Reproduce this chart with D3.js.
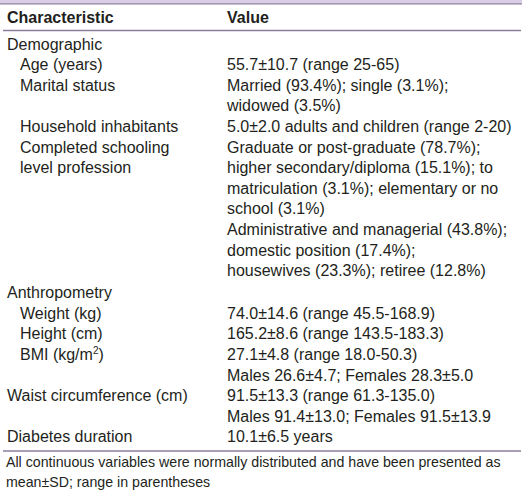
<!DOCTYPE html>
<html><head><meta charset="utf-8">
<script src="https://cdn.jsdelivr.net/npm/d3@7"></script>
<style>
html,body{margin:0;padding:0;background:#fff;}
svg{display:block;}
text{font-family:"Liberation Sans",Arial,sans-serif;fill:#231f20;}
</style></head>
<body>
<svg id="chart" width="522" height="492"></svg>
<script>
// ---- data ----
const headers = ["Characteristic", "Value"];
const characteristics = [
  "Demographic", "Age (years)", "Marital status", "Household inhabitants",
  "Completed schooling|level profession", "Anthropometry", "Weight (kg)",
  "Height (cm)", "BMI (kg/m^2)", "Waist circumference (cm)", "Diabetes duration"
];
const levels = [0, 1, 1, 1, 1, 0, 1, 1, 1, 0, 0];
const values = [
  [],
  ["55.7±10.7 (range 25-65)"],
  ["Married (93.4%); single (3.1%);", "widowed (3.5%)"],
  ["5.0±2.0 adults and children (range 2-20)"],
  ["Graduate or post-graduate (78.7%);", "higher secondary/diploma (15.1%); to",
   "matriculation (3.1%); elementary or no", "school (3.1%)",
   "Administrative and managerial (43.8%);", "domestic position (17.4%);",
   "housewives (23.3%); retiree (12.8%)"],
  [],
  ["74.0±14.6 (range 45.5-168.9)"],
  ["165.2±8.6 (range 143.5-183.3)"],
  ["27.1±4.8 (range 18.0-50.3)", "Males 26.6±4.7; Females 28.3±5.0"],
  ["91.5±13.3 (range 61.3-135.0)", "Males 91.4±13.0; Females 91.5±13.9"],
  ["10.1±6.5 years"]
];
const sectionGap = [0, 0, 0, 0, 0, 1, 0, 0, 0, 0, 0];
const footnote = [
  "All continuous variables were normally distributed and have been presented as",
  "mean±SD; range in parentheses"
];

// ---- layout ----
const W = 522, H = 492;
const svg = d3.select("#chart");
const x = d3.scaleOrdinal().domain(["section", "item", "value"]).range([7, 20, 227]);
const lineY = d3.scaleLinear().domain([0, 1]).range([49.5, 70.1]); // baseline per line index

let rowsOut = [];
let idx = 0, extra = 0;
characteristics.forEach((c, i) => {
  if (sectionGap[i]) extra += 1.5;
  const labels = c.split("|");
  const n = Math.max(labels.length, values[i].length, 1);
  rowsOut.push({i, start: idx, labels, vals: values[i], extra});
  idx += n;
});

// top band
svg.append("rect").attr("x", 0).attr("y", 0).attr("width", W).attr("height", 3.5).attr("fill", "#d8cce6");
svg.append("line").attr("x1", 0).attr("x2", W).attr("y1", 3.8).attr("y2", 3.8).attr("stroke", "#8c7d9e").attr("stroke-width", 1.3);

// header
svg.append("g").selectAll("text").data(headers).join("text")
  .attr("x", (d, i) => i === 0 ? 7 : x("value"))
  .attr("y", 22.5)
  .attr("font-size", 16).attr("font-weight", "bold")
  .text(d => d);
svg.append("line").attr("x1", 3).attr("x2", 521).attr("y1", 30.5).attr("y2", 30.5).attr("stroke", "#8c7d9e").attr("stroke-width", 1.3);

const body = svg.append("g");
rowsOut.forEach(r => {
  r.labels.forEach((lab, k) => {
    const t = body.append("text")
      .attr("x", levels[r.i] === 0 ? x("section") : x("item"))
      .attr("y", lineY(r.start + k) + r.extra)
      .attr("font-size", 16);
    if (lab.includes("^2")) {
      const parts = lab.split("^2");
      t.append("tspan").text(parts[0]);
      t.append("tspan").attr("font-size", 10).attr("dy", -6).text("2");
      t.append("tspan").attr("dy", 6).text(parts[1]);
    } else t.text(lab);
  });
  r.vals.forEach((v, k) => {
    body.append("text")
      .attr("x", x("value"))
      .attr("y", lineY(r.start + k) + r.extra)
      .attr("font-size", 16)
      .text(v);
  });
});

// bottom rule
svg.append("line").attr("x1", 3).attr("x2", 521).attr("y1", 451).attr("y2", 451).attr("stroke", "#8c7d9e").attr("stroke-width", 1.3);

// footnote
svg.append("g").selectAll("text").data(footnote).join("text")
  .attr("x", 6)
  .attr("y", (d, i) => 467 + i * 20)
  .attr("font-size", 14.2)
  .text(d => d);
</script>
</body></html>
